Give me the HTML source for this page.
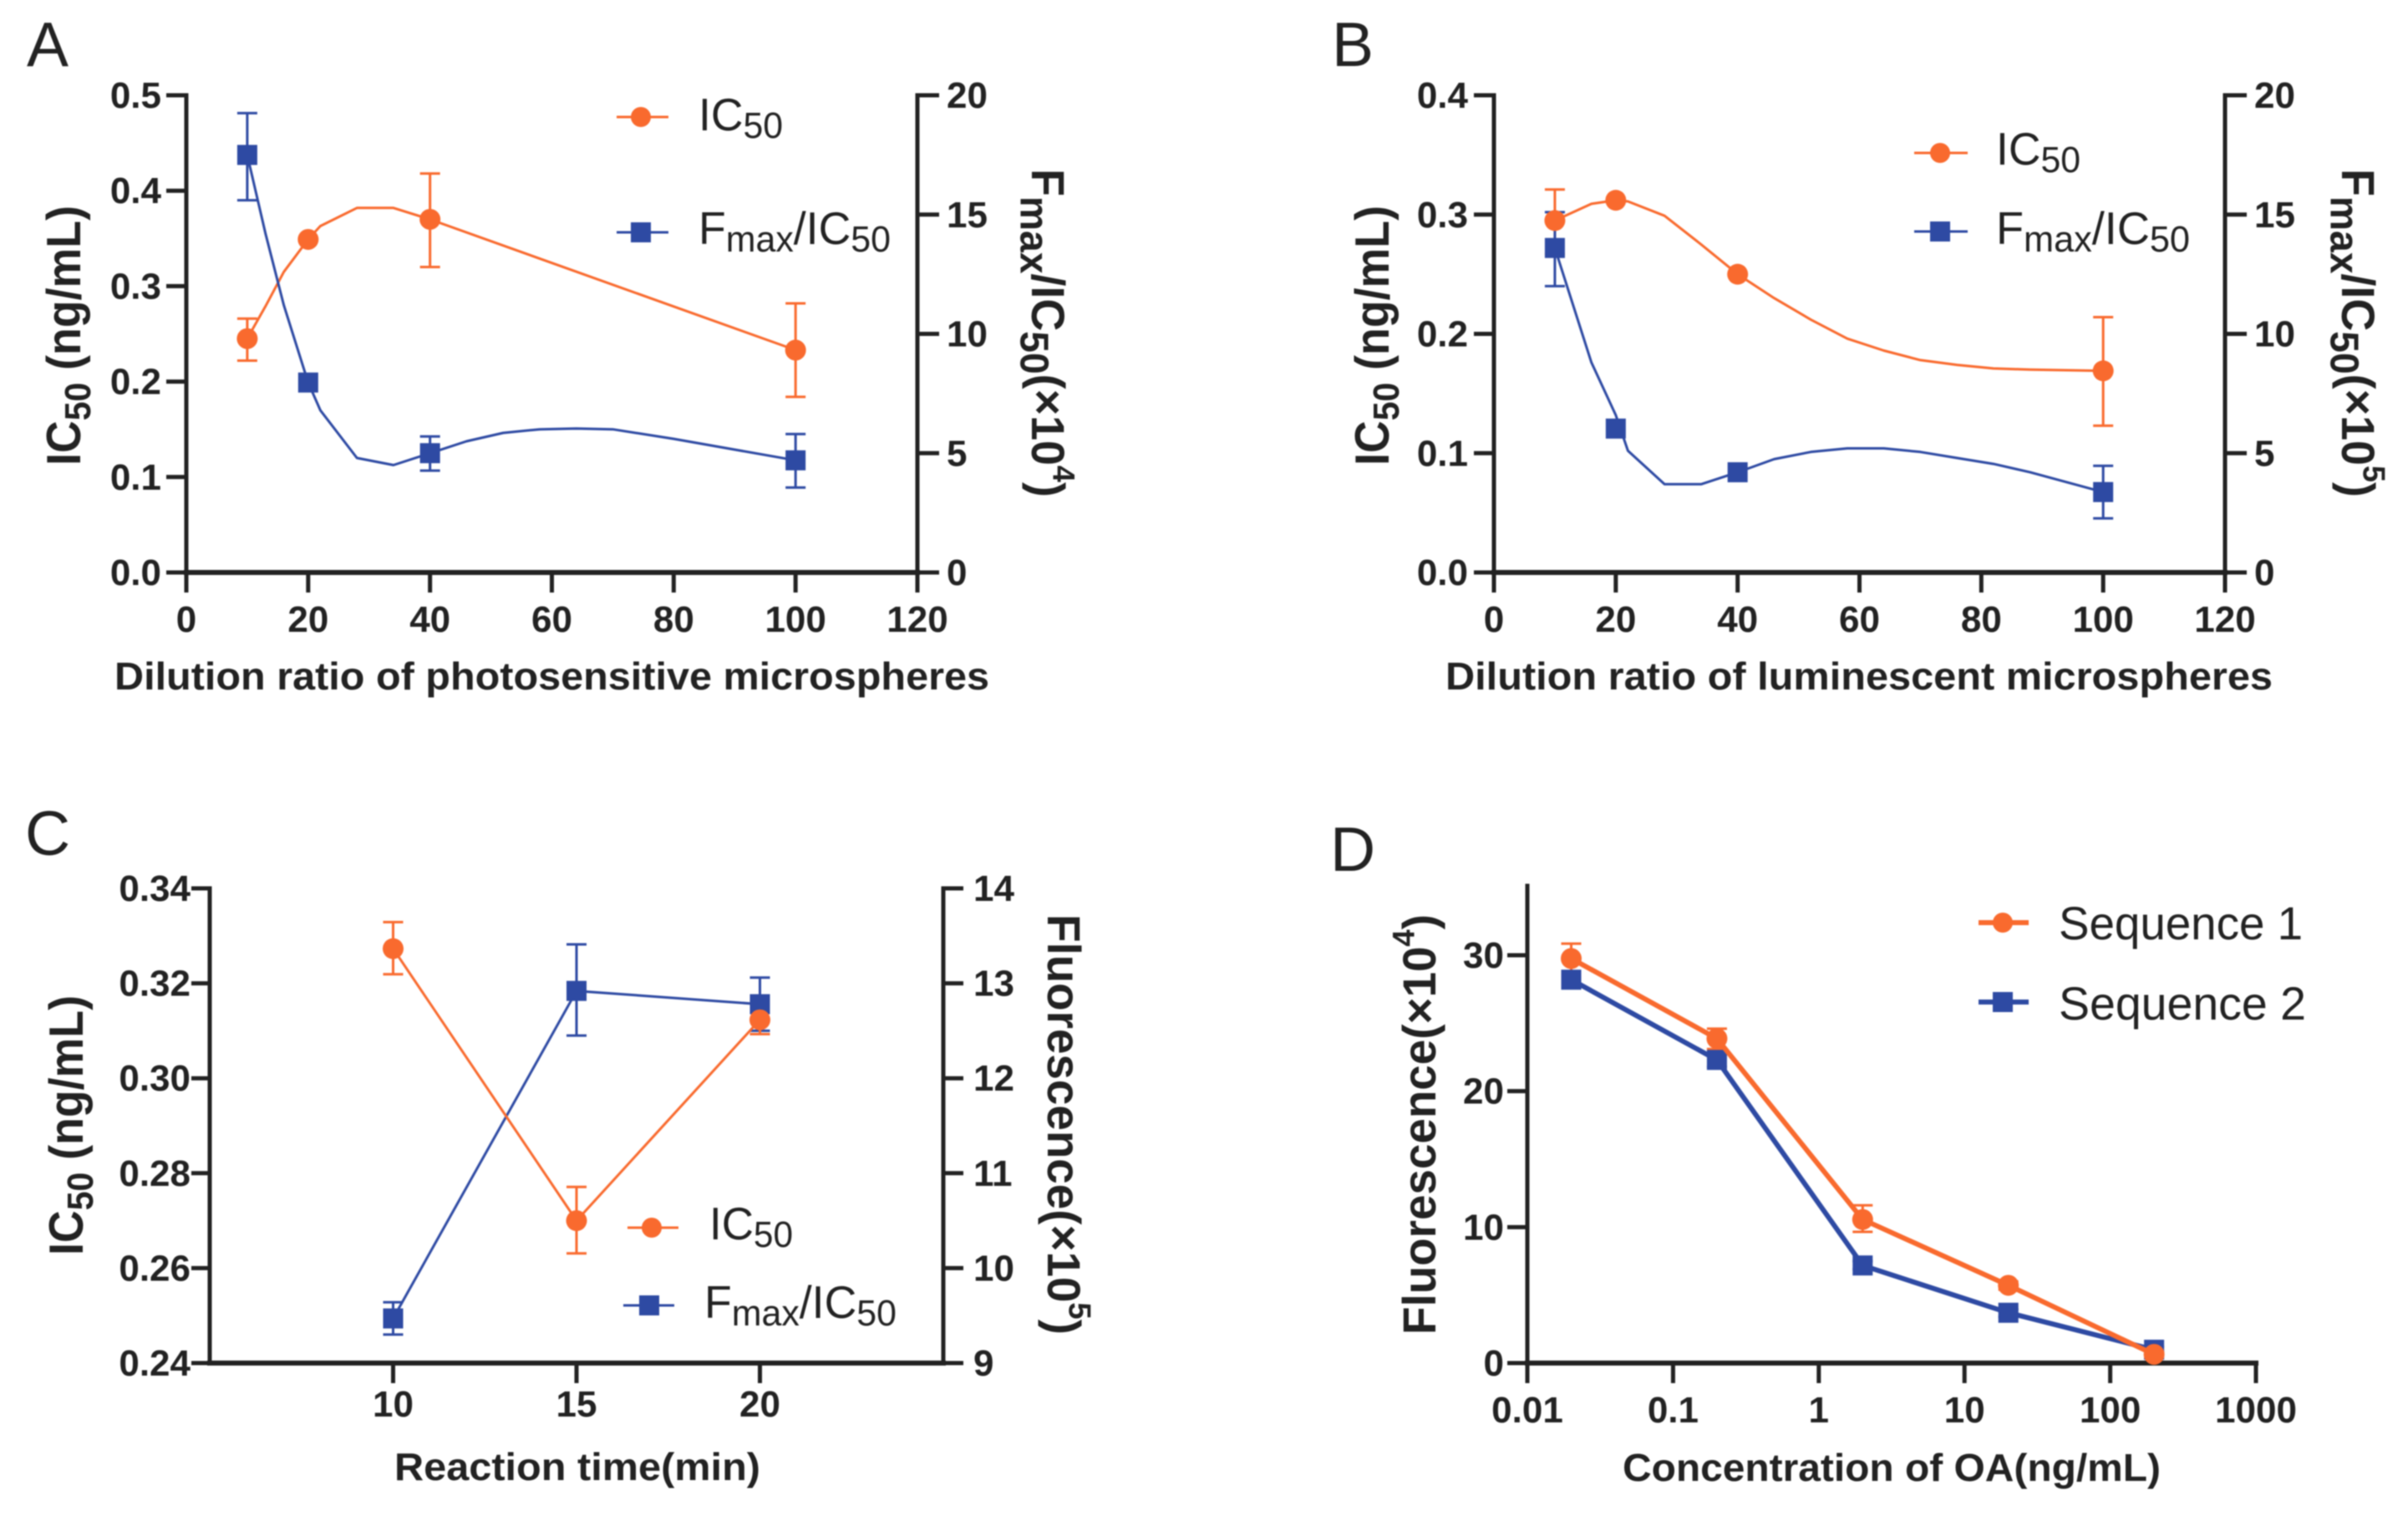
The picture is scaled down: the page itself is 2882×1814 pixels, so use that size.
<!DOCTYPE html>
<html>
<head>
<meta charset="utf-8">
<title>Optimization charts</title>
<style>
html,body{margin:0;padding:0;background:#fff;}
svg{display:block;filter:blur(0.7px);}
text{font-family:"Liberation Sans",sans-serif;fill:#222;}
.b{font-weight:bold;}
</style>
</head>
<body>
<svg id="fig" xmlns="http://www.w3.org/2000/svg" width="2882" height="1814" viewBox="0 0 2882 1814">
<rect width="2882" height="1814" fill="#fff"/>

<text x="32" y="79" font-size="75">A</text>
<text x="1594" y="79" font-size="75">B</text>
<text x="30" y="1023" font-size="75">C</text>
<text x="1592" y="1042" font-size="75">D</text>

<!-- Panel A titles -->
<text class="b" x="137" y="825" font-size="46" textLength="1047" lengthAdjust="spacingAndGlyphs">Dilution ratio of photosensitive microspheres</text>
<text class="b" transform="translate(96,557) rotate(-90) scale(1,1.36)" font-size="42" textLength="311" lengthAdjust="spacingAndGlyphs">IC<tspan font-size="32" dy="9">50</tspan><tspan dy="-9"> (ng/mL)</tspan></text>
<text class="b" transform="translate(1235,202) rotate(90) scale(1,1.33)" font-size="42" textLength="393" lengthAdjust="spacingAndGlyphs">F<tspan font-size="36" dy="10">max</tspan><tspan dy="-10">/IC</tspan><tspan font-size="36" dy="10">50</tspan><tspan dy="-10">(×10</tspan><tspan font-size="28" dy="-19">4</tspan><tspan dy="19">)</tspan></text>

<!-- Panel B titles -->
<text class="b" x="1730" y="825" font-size="46" textLength="990" lengthAdjust="spacingAndGlyphs">Dilution ratio of luminescent microspheres</text>
<text class="b" transform="translate(1662,557) rotate(-90) scale(1,1.36)" font-size="42" textLength="311" lengthAdjust="spacingAndGlyphs">IC<tspan font-size="32" dy="9">50</tspan><tspan dy="-9"> (ng/mL)</tspan></text>
<text class="b" transform="translate(2803,202) rotate(90) scale(1,1.33)" font-size="42" textLength="393" lengthAdjust="spacingAndGlyphs">F<tspan font-size="36" dy="10">max</tspan><tspan dy="-10">/IC</tspan><tspan font-size="36" dy="10">50</tspan><tspan dy="-10">(×10</tspan><tspan font-size="28" dy="-19">5</tspan><tspan dy="19">)</tspan></text>

<!-- Panel C titles -->
<text class="b" x="472" y="1771" font-size="46" textLength="438" lengthAdjust="spacingAndGlyphs">Reaction time(min)</text>
<text class="b" transform="translate(99,1502) rotate(-90) scale(1,1.36)" font-size="42" textLength="311" lengthAdjust="spacingAndGlyphs">IC<tspan font-size="32" dy="9">50</tspan><tspan dy="-9"> (ng/mL)</tspan></text>
<text class="b" transform="translate(1254,1094) rotate(90) scale(1,1.33)" font-size="42" textLength="503" lengthAdjust="spacingAndGlyphs">Fluorescence(×10<tspan font-size="28" dy="-19">5</tspan><tspan dy="19">)</tspan></text>

<!-- Panel D titles -->
<text class="b" x="1942" y="1772" font-size="46" textLength="644" lengthAdjust="spacingAndGlyphs">Concentration of OA(ng/mL)</text>
<text class="b" transform="translate(1718,1597) rotate(-90) scale(1,1.33)" font-size="42" textLength="503" lengthAdjust="spacingAndGlyphs">Fluorescence(×10<tspan font-size="28" dy="-19">4</tspan><tspan dy="19">)</tspan></text>

<!-- Legends -->
<g>
  <line x1="738" x2="800" y1="140" y2="140" stroke="#F96A2E" stroke-width="3"/><circle cx="767" cy="140" r="12" fill="#F96A2E"/>
  <text x="836" y="156" font-size="55" textLength="101" lengthAdjust="spacingAndGlyphs">IC<tspan font-size="44" dy="9">50</tspan></text>
  <line x1="738" x2="800" y1="278" y2="278" stroke="#2E4AA3" stroke-width="3"/><rect x="755" y="266" width="24" height="24" fill="#2E4AA3"/>
  <text x="836" y="292" font-size="55" textLength="230" lengthAdjust="spacingAndGlyphs">F<tspan font-size="44" dy="9">max</tspan><tspan dy="-9">/IC</tspan><tspan font-size="44" dy="9">50</tspan></text>
</g>
<g>
  <line x1="2291" x2="2355" y1="183" y2="183" stroke="#F96A2E" stroke-width="3"/><circle cx="2322" cy="183" r="12" fill="#F96A2E"/>
  <text x="2389" y="197" font-size="55" textLength="101" lengthAdjust="spacingAndGlyphs">IC<tspan font-size="44" dy="9">50</tspan></text>
  <line x1="2291" x2="2355" y1="277" y2="277" stroke="#2E4AA3" stroke-width="3"/><rect x="2310" y="265" width="24" height="24" fill="#2E4AA3"/>
  <text x="2389" y="292" font-size="55" textLength="232" lengthAdjust="spacingAndGlyphs">F<tspan font-size="44" dy="9">max</tspan><tspan dy="-9">/IC</tspan><tspan font-size="44" dy="9">50</tspan></text>
</g>
<g>
  <line x1="751" x2="812" y1="1469" y2="1469" stroke="#F96A2E" stroke-width="3"/><circle cx="780" cy="1469" r="12" fill="#F96A2E"/>
  <text x="849" y="1483" font-size="55" textLength="100" lengthAdjust="spacingAndGlyphs">IC<tspan font-size="44" dy="9">50</tspan></text>
  <line x1="746" x2="807" y1="1562" y2="1562" stroke="#2E4AA3" stroke-width="3"/><rect x="765" y="1550" width="24" height="24" fill="#2E4AA3"/>
  <text x="843" y="1577" font-size="55" textLength="230" lengthAdjust="spacingAndGlyphs">F<tspan font-size="44" dy="9">max</tspan><tspan dy="-9">/IC</tspan><tspan font-size="44" dy="9">50</tspan></text>
</g>
<g>
  <line x1="2368" x2="2428" y1="1104" y2="1104" stroke="#F96A2E" stroke-width="6"/><circle cx="2397" cy="1104" r="12" fill="#F96A2E"/>
  <text x="2464" y="1124" font-size="56" textLength="292" lengthAdjust="spacingAndGlyphs">Sequence 1</text>
  <line x1="2368" x2="2428" y1="1199" y2="1199" stroke="#2E4AA3" stroke-width="6"/><rect x="2385" y="1187" width="24" height="24" fill="#2E4AA3"/>
  <text x="2464" y="1220" font-size="56" textLength="296" lengthAdjust="spacingAndGlyphs">Sequence 2</text>
</g>
<g id="plots"></g>
</svg>
<script>
// Panel A data
const aX = [10, 20, 40, 100];
const aIc50 = [0.245, 0.349, 0.370, 0.233];
const aIc50Up = [0.266, null, 0.418, 0.282];
const aIc50Low = [0.222, null, 0.320, 0.184];
const aFmax = [17.5, 7.96, 5.0, 4.7];
const aFmaxUp = [19.25, null, 5.7, 5.8];
const aFmaxLow = [15.6, null, 4.27, 3.56];
const aIc50CurveX = [10, 13, 16, 20, 22, 28, 34, 40, 100];
const aIc50CurveY = [0.245, 0.279, 0.315, 0.349, 0.363, 0.382, 0.382, 0.370, 0.233];
const aFmaxCurveX = [10, 13, 16, 20, 22, 28, 34, 40, 46, 52, 58, 64, 70, 80, 90, 100];
const aFmaxCurveY = [17.5, 14.2, 11.2, 7.96, 6.8, 4.8, 4.5, 5.0, 5.5, 5.85, 6.0, 6.03, 6.0, 5.6, 5.15, 4.7];
const aXTicks = [0, 20, 40, 60, 80, 100, 120];
const aLeftTicks = ["0.0", "0.1", "0.2", "0.3", "0.4", "0.5"];
const aRightTicks = ["0", "5", "10", "15", "20"];

// Panel B data
const bX = [10, 20, 40, 100];
const bIc50 = [0.295, 0.312, 0.250, 0.169];
const bIc50Up = [0.321, null, null, 0.214];
const bIc50Low = [0.267, null, null, 0.123];
const bFmax = [13.6, 6.03, 4.2, 3.37];
const bFmaxUp = [15.1, null, null, 4.47];
const bFmaxLow = [12.0, null, null, 2.27];
const bIc50CurveX = [10, 16, 20, 22, 28, 34, 40, 46, 52, 58, 64, 70, 76, 82, 88, 100];
const bIc50CurveY = [0.295, 0.309, 0.312, 0.311, 0.299, 0.275, 0.250, 0.230, 0.212, 0.196, 0.186, 0.178, 0.174, 0.171, 0.170, 0.169];
const bFmaxCurveX = [10, 16, 20, 22, 28, 34, 40, 46, 52, 58, 64, 70, 76, 82, 88, 100];
const bFmaxCurveY = [13.6, 8.8, 6.6, 5.1, 3.7, 3.7, 4.2, 4.75, 5.05, 5.2, 5.2, 5.05, 4.8, 4.55, 4.2, 3.37];
const bXTicks = [0, 20, 40, 60, 80, 100, 120];
const bLeftTicks = ["0.0", "0.1", "0.2", "0.3", "0.4"];
const bRightTicks = ["0", "5", "10", "15", "20"];

// Panel C data
const cX = [10, 15, 20];
const cIc50 = [0.3273, 0.270, 0.3123];
const cIc50Up = [0.3329, 0.2771, 0.3156];
const cIc50Low = [0.3219, 0.2631, 0.3093];
const cFmax = [9.47, 12.92, 12.78];
const cFmaxUp = [9.64, 13.41, 13.06];
const cFmaxLow = [9.3, 12.45, 12.5];
const cXTicks = [10, 15, 20];
const cLeftTicks = ["0.24", "0.26", "0.28", "0.30", "0.32", "0.34"];
const cRightTicks = ["9", "10", "11", "12", "13", "14"];

// Panel D data
const dX = [0.02, 0.2, 2, 20, 200];
const dSeq1 = [29.76, 23.87, 10.56, 5.72, 0.64];
const dSeq1Up = [30.85, 24.6, 11.6, 6.0, 0.9];
const dSeq1Low = [28.7, 23.1, 9.65, 5.4, 0.4];
const dSeq2 = [28.2, 22.3, 7.18, 3.7, 0.98];
const dSeq2Up = [28.8, 22.8, 7.5, 3.95, 1.2];
const dSeq2Low = [27.6, 21.8, 6.9, 3.4, 0.8];
const dXTicks = ["0.01", "0.1", "1", "10", "100", "1000"];
const dLeftTicks = ["0", "10", "20", "30"];

const ORANGE = "#F96A2E", BLUE = "#2E4AA3", INK = "#222";
const NS = "http://www.w3.org/2000/svg";
const root = document.getElementById("plots");

function el(parent, tag, attrs) {
  const e = document.createElementNS(NS, tag);
  for (const k in attrs) e.setAttribute(k, attrs[k]);
  parent.appendChild(e);
  return e;
}
function linear(d0, d1, r0, r1) { return v => r0 + (v - d0) / (d1 - d0) * (r1 - r0); }
function logScale(d0, d1, r0, r1) { return v => r0 + (Math.log10(v) - Math.log10(d0)) / (Math.log10(d1) - Math.log10(d0)) * (r1 - r0); }

function hTick(g, x, y, dir, len, label, labelX, anchor) {
  const t = el(g, "line", {x1: x, x2: x + dir * len, y1: y, y2: y, stroke: INK, "stroke-width": 5});
  
  
  const s = el(g, "text", {x: labelX, y: y + 15, "font-size": 44, "class": "b", "text-anchor": anchor});
  
  
  s.textContent = label;
}
function vTick(g, x, y, len, label, baseY) {
  const t = el(g, "line", {x1: x, x2: x, y1: y, y2: y + len, stroke: INK, "stroke-width": 5});
  
  
  const s = el(g, "text", {x: x, y: baseY, "font-size": 44, "class": "b", "text-anchor": "middle"});
  
  
  s.textContent = label;
}
function axisLine(g, x1, y1, x2, y2, w) {
  const a = el(g, "line", {x1: x1, y1: y1, x2: x2, y2: y2, stroke: INK, "stroke-width": w, "stroke-linecap": "square"});
  
  
}
function errorBars(g, xs, ups, lows, X, Y, color) {
  xs.forEach((v, i) => {
    if (ups[i] === null) return;
    const px = X(v), u = Y(ups[i]), l = Y(lows[i]);
    const b = el(g, "path", {d: "M" + (px - 12) + " " + u + "H" + (px + 12) + "M" + px + " " + u + "V" + l + "M" + (px - 12) + " " + l + "H" + (px + 12), stroke: color, "stroke-width": 3, fill: "none"});
    
    
  });
}
function seriesLine(g, xs, ys, X, Y, color, w) {
  const d = xs.map((v, i) => (i ? "L" : "M") + X(v).toFixed(1) + " " + Y(ys[i]).toFixed(1)).join("");
  const p = el(g, "path", {d: d, stroke: color, "stroke-width": w, fill: "none", "stroke-linejoin": "round"});
  
  
}
function circles(g, xs, ys, X, Y, color) {
  xs.forEach((v, i) => {
    const c = el(g, "circle", {cx: X(v), cy: Y(ys[i]), r: 12.5, fill: color});
    
    
  });
}
function squares(g, xs, ys, X, Y, color) {
  xs.forEach((v, i) => {
    const c = el(g, "rect", {x: X(v) - 12, y: Y(ys[i]) - 12, width: 24, height: 24, fill: color});
    
    
  });
}
function dualAxes(g, cfg) {
  axisLine(g, cfg.x0, cfg.yTop, cfg.x0, cfg.yBot, 5);
  axisLine(g, cfg.x1, cfg.yTop, cfg.x1, cfg.yBot, 5);
  axisLine(g, cfg.x0, cfg.yBot, cfg.x1, cfg.yBot, 6);
  cfg.left.forEach((lab) => hTick(g, cfg.x0, cfg.YL(parseFloat(lab)), -1, cfg.tl, lab, cfg.leftLabelX, "end"));
  cfg.right.forEach((lab) => hTick(g, cfg.x1, cfg.YR(parseFloat(lab)), 1, cfg.tr, lab, cfg.rightLabelX, "start"));
  cfg.xt.forEach((v) => vTick(g, cfg.X(v), cfg.yBot, 24, String(v), cfg.xBase));
}
function panel(name) {
  const g = el(root, "g", {});
  
  
  return g;
}

// Panel A
(function () {
  const g = panel('panel-a-plot');
  const X = linear(0, 120, 223, 1098), YL = linear(0, 0.5, 685, 114), YR = linear(0, 20, 685, 114);
  dualAxes(g, {x0: 223, x1: 1098, yTop: 114, yBot: 685, X, YL, YR, left: aLeftTicks, right: aRightTicks, xt: aXTicks, tl: 24, tr: 26, leftLabelX: 193, rightLabelX: 1133, xBase: 756});
  errorBars(g, aX, aIc50Up, aIc50Low, X, YL, ORANGE);
  errorBars(g, aX, aFmaxUp, aFmaxLow, X, YR, BLUE);
  seriesLine(g, aIc50CurveX, aIc50CurveY, X, YL, ORANGE, 3);
  seriesLine(g, aFmaxCurveX, aFmaxCurveY, X, YR, BLUE, 3);
  circles(g, aX, aIc50, X, YL, ORANGE);
  squares(g, aX, aFmax, X, YR, BLUE);
})();

// Panel B
(function () {
  const g = panel('panel-b-plot');
  const X = linear(0, 120, 1788, 2663), YL = linear(0, 0.4, 685, 114), YR = linear(0, 20, 685, 114);
  dualAxes(g, {x0: 1788, x1: 2663, yTop: 114, yBot: 685, X, YL, YR, left: bLeftTicks, right: bRightTicks, xt: bXTicks, tl: 24, tr: 26, leftLabelX: 1757, rightLabelX: 2698, xBase: 756});
  errorBars(g, bX, bIc50Up, bIc50Low, X, YL, ORANGE);
  errorBars(g, bX, bFmaxUp, bFmaxLow, X, YR, BLUE);
  seriesLine(g, bIc50CurveX, bIc50CurveY, X, YL, ORANGE, 3);
  seriesLine(g, bFmaxCurveX, bFmaxCurveY, X, YR, BLUE, 3);
  circles(g, bX, bIc50, X, YL, ORANGE);
  squares(g, bX, bFmax, X, YR, BLUE);
})();

// Panel C
(function () {
  const g = panel('panel-c-plot');
  const X = linear(5, 25, 251, 1129), YL = linear(0.24, 0.34, 1631, 1063), YR = linear(9, 14, 1631, 1063);
  dualAxes(g, {x0: 251, x1: 1129, yTop: 1063, yBot: 1631, X, YL, YR, left: cLeftTicks, right: cRightTicks, xt: cXTicks, tl: 22, tr: 24, leftLabelX: 228, rightLabelX: 1165, xBase: 1695});
  errorBars(g, cX, cFmaxUp, cFmaxLow, X, YR, BLUE);
  errorBars(g, cX, cIc50Up, cIc50Low, X, YL, ORANGE);
  seriesLine(g, cX, cFmax, X, YR, BLUE, 3);
  seriesLine(g, cX, cIc50, X, YL, ORANGE, 3);
  squares(g, cX, cFmax, X, YR, BLUE);
  circles(g, cX, cIc50, X, YL, ORANGE);
})();

// Panel D
(function () {
  const g = panel('panel-d-plot');
  const x0 = 1828, x1 = 2700, yTop = 1060, yBot = 1631;
  const X = logScale(0.01, 1000, x0, x1), Y = linear(0, 30, 1631, 1143);
  axisLine(g, x0, yTop, x0, yBot, 5);
  axisLine(g, x0, yBot, x1, yBot, 6);
  dLeftTicks.forEach((lab) => hTick(g, x0, Y(parseFloat(lab)), -1, 24, lab, 1800, "end"));
  dXTicks.forEach((lab) => vTick(g, X(parseFloat(lab)), yBot, 24, lab, 1702));
  errorBars(g, dX, dSeq2Up, dSeq2Low, X, Y, BLUE);
  errorBars(g, dX, dSeq1Up, dSeq1Low, X, Y, ORANGE);
  seriesLine(g, dX, dSeq2, X, Y, BLUE, 6);
  squares(g, dX, dSeq2, X, Y, BLUE);
  seriesLine(g, dX, dSeq1, X, Y, ORANGE, 6);
  circles(g, dX, dSeq1, X, Y, ORANGE);
})();
</script>
</body>
</html>
